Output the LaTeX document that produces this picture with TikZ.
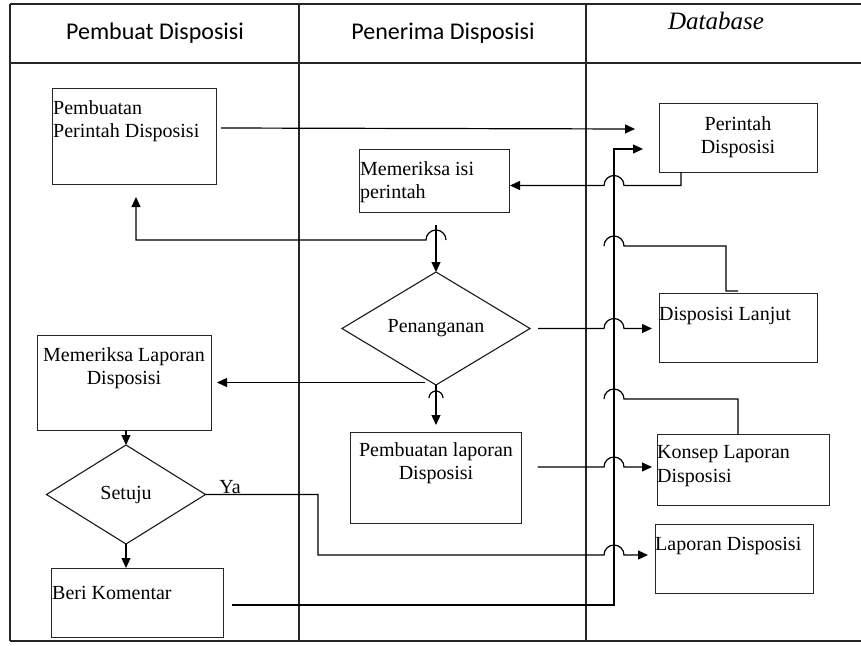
\documentclass[tikz,border=0pt]{standalone}
\usepackage{fontspec}
\setmainfont{Liberation Serif}
\newfontfamily\hdrfont{Carlito}
\usetikzlibrary{arrows.meta,shapes.geometric}

\begin{document}
\begin{tikzpicture}[x=1pt,y=-1pt,
  frame/.style={line width=1.1pt, draw=black!85},
  box/.style={draw=black!85, line width=1pt, rectangle, inner sep=0pt, outer sep=0pt},
  decision/.style={draw=black!90, line width=1.1pt, diamond, inner sep=0pt, outer sep=0pt,
    font=\fontsize{20}{23.5}\selectfont},
  txt/.style={font=\fontsize{20}{23.5}\selectfont, inner sep=1pt},
  hdr/.style={font=\hdrfont\fontsize{24}{27}\selectfont, inner sep=0pt},
  flow/.style={line width=1.2pt, draw=black},
  arr/.style={flow, -{Triangle[length=10pt,width=9pt]}},
]
\useasboundingbox (0,0) rectangle (861,645);

% swimlane frame
\draw[frame] (10,4) -- (861,4);
\draw[frame] (10,641) -- (861,641);
\draw[frame] (10,4) -- (10,641);
\draw[frame] (10,63) -- (861,63);
\draw[frame] (299,4) -- (299,641);
\draw[frame] (586,4) -- (586,641);

% lane headings
\node[hdr] (h1) at (155,33) {Pembuat Disposisi};
\node[hdr] (h2) at (443,33) {Penerima Disposisi};
\node[font=\fontsize{25}{27}\selectfont\itshape, inner sep=0pt] (h3) at (716,21) {Database};

% lane 1: Pembuat Disposisi
\node[box, minimum width=164, minimum height=96] (ppd) at (134,136) {};
\node[txt, align=left, anchor=west] (ppdt) at (52,121) {Pembuatan\\Perintah Disposisi};
\node[box, minimum width=174, minimum height=95] (mld) at (124,382.5) {};
\node[txt, align=center] (mldt) at (124,368) {Memeriksa Laporan\\Disposisi};
\node[decision, minimum width=159, minimum height=99, aspect=1.6] (setuju) at (126,494.5) {Setuju};
\node[box, minimum width=172, minimum height=69] (bk) at (137,602.5) {};
\node[txt, anchor=west] (bkt) at (51,593) {Beri Komentar};
\node[txt] (ya) at (230,487) {Ya};

% lane 2: Penerima Disposisi
\node[box, minimum width=150, minimum height=63] (mip) at (434,180.5) {};
\node[txt, align=left, anchor=west] (mipt) at (359,182) {Memeriksa isi\\perintah};
\node[decision, minimum width=188, minimum height=113, aspect=1.66] (pen) at (436,328.5) {Penanganan};
\node[box, minimum width=171, minimum height=91] (pld) at (436,477.5) {};
\node[txt, align=center] (pldt) at (436,463) {Pembuatan laporan\\Disposisi};

% lane 3: Database
\node[box, minimum width=158, minimum height=69] (db1) at (738,137.5) {};
\node[txt, align=center] (db1t) at (738,137) {Perintah\\Disposisi};
\node[box, minimum width=158, minimum height=69] (dl) at (738,327.5) {};
\node[txt, anchor=west] (dlt) at (658,316) {Disposisi Lanjut};
\node[box, minimum width=172, minimum height=71] (kl) at (743,469.5) {};
\node[txt, align=left, anchor=west] (klt) at (656,466) {Konsep Laporan\\Disposisi};
\node[box, minimum width=158, minimum height=69] (lap) at (734,558.5) {};
\node[txt, anchor=west] (lapt) at (654,546) {Laporan Disposisi};

% crossing points on the return trunk and the central flow
\coordinate (j1) at (436,240);
\coordinate (j2) at (436,398);
\coordinate (t1) at (614,185.5);
\coordinate (t2) at (614,246);
\coordinate (t3) at (614,328.5);
\coordinate (t4) at (614,399);
\coordinate (t5) at (614,467);
\coordinate (t6) at (614,555);
\coordinate (tb) at (614,605);
\coordinate (yb) at (318,555);

% connectors
\draw[arr] ([shift={(5,-8)}]ppd.east) -- ([shift={(-24,-8.5)}]db1.west);
\draw[arr] ([xshift=-57pt]db1.south) |- ([xshift=10pt]t1)
  arc[start angle=0, end angle=180, radius=10pt] -- ([shift={(1,5)}]mip.east);
\draw[arr] ([shift={(2,13)}]mip.south) -- (pen.north);
\draw[arr] ([xshift=10pt]j1) arc[start angle=0, end angle=180, radius=10pt]
  -- ([xshift=2pt]ppd.south |- j1) -- ([shift={(2,13)}]ppd.south);
\draw[arr] (pen.south) -- ([yshift=7pt]pld.north);
\draw[flow] ([xshift=-7pt]j2) arc[start angle=180, end angle=0, radius=7pt];
\draw[arr] ([shift={(-11,-2.5)}]pen.south) -- ([shift={(6,0)}]mld.east);
\draw[arr] ([xshift=8pt]pen.east) -- ([xshift=-10pt]t3)
  arc[start angle=180, end angle=0, radius=10pt] -- ([xshift=-7pt]dl.west |- t3);
\draw[arr] ([shift={(16,-10.5)}]pld.east) -- ([xshift=-10pt]t5)
  arc[start angle=180, end angle=0, radius=10pt] -- ([xshift=-5pt]kl.west |- t5);
\draw[flow] ([shift={(0,-2)}]dl.north) -- ++(-12,0) |- ([xshift=10pt]t2)
  arc[start angle=0, end angle=180, radius=10pt];
\draw[flow] ([xshift=-5pt]kl.north) |- ([xshift=10pt]t4)
  arc[start angle=0, end angle=180, radius=10pt];
\draw[arr] ([xshift=2pt]mld.south) -- (setuju.north);
\draw[arr] (setuju.south) -- (setuju.south |- bk.north);
\draw[arr] (setuju.east) -| (yb) -- ([xshift=-10pt]t6)
  arc[start angle=180, end angle=0, radius=10pt] -- ([xshift=-7pt]lap.west |- t6);
\draw[arr] ([shift={(9,2.5)}]bk.east) -- (tb) |- ([shift={(-16,11.5)}]db1.west);
\end{tikzpicture}
\end{document}
